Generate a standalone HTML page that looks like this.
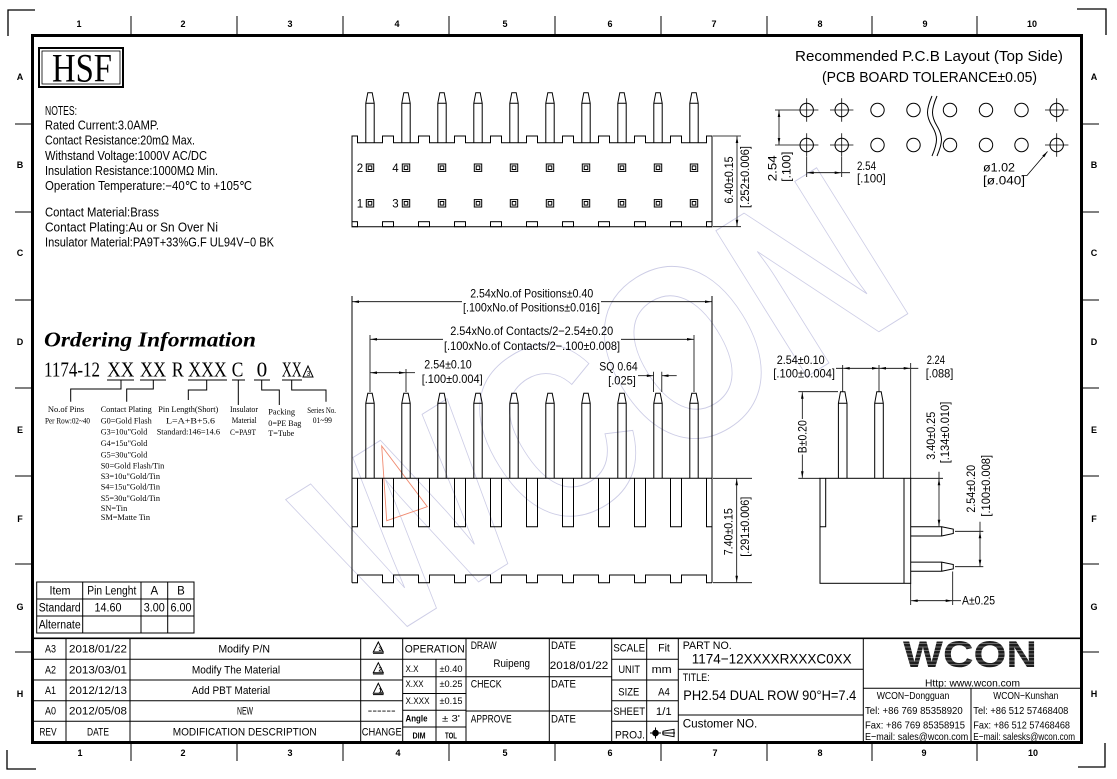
<!DOCTYPE html>
<html><head><meta charset="utf-8">
<style>
html,body{margin:0;padding:0;background:#fff;}
svg{display:block;}
.c{font-family:"Liberation Sans Narrow","Liberation Sans",sans-serif;fill:#000;}
.r{font-family:"Liberation Serif",serif;fill:#000;}
</style></head>
<body>
<svg width="1117" height="779" viewBox="0 0 1117 779" xmlns="http://www.w3.org/2000/svg">
<defs>
<marker id="ar" viewBox="0 0 10 4" refX="10" refY="2" markerWidth="7" markerHeight="2.6" markerUnits="userSpaceOnUse" orient="auto-start-reverse"><path d="M0,0L10,2L0,4z" fill="#000"/></marker>
<path id="pA" d="M-4.2,50V10.6L-2.2,0H2.2L4.2,10.6V50M-4.2,10.6H4.2" fill="none" stroke="#000" stroke-width="1"/>
<path id="pB" d="M-4.2,85V10L-2.2,0H2.2L4.2,10V85M-4.2,10H4.2" fill="none" stroke="#000" stroke-width="1"/>
<path id="pC" d="M-4.3,86.6V11.6L-2.2,0H2.2L4.3,11.6V86.6M-4.3,11.6H4.3" fill="none" stroke="#000" stroke-width="1"/>
<g id="pad" fill="none" stroke="#000" stroke-width="1"><rect x="-3.7" y="-3.7" width="7.4" height="7.4"/><rect x="-1.8" y="-1.8" width="3.6" height="3.6"/></g>
</defs>

<!-- watermark -->
<text x="0" y="0" transform="translate(648,476) rotate(-32)" font-family="Liberation Sans, sans-serif" font-size="250" font-weight="bold" text-anchor="middle" textLength="640" lengthAdjust="spacingAndGlyphs" fill="none" stroke="#cdcde6" stroke-width="1">WCON</text>
<polygon points="381.7,446 427.3,506.7 386.7,520.7" fill="none" stroke="#f08a70" stroke-width="0.9"/>

<!-- frame -->
<g fill="none" stroke="#000">
<rect x="32.5" y="35.5" width="1049" height="707" stroke-width="3"/>
<path d="M8,36V10H35M1077,9H1106V35M7,750V769H36M1078,767H1105V743" stroke-width="1.3"/>
<path d="M131,16V35M237,16V35M343,16V35M449,16V35M555,16V35M661,16V35M767,16V35M872,16V35M977,16V35" stroke-width="1"/>
<path d="M131,744V761M237,744V761M343,744V761M449,744V761M555,744V761M661,744V761M767,744V761M872,744V761M977,744V761" stroke-width="1"/>
<path d="M15,124H32M15,212H32M15,300H32M15,388H32M15,476H32M15,564H32M15,652H32" stroke-width="1"/>
<path d="M1083,124H1099M1083,212H1099M1083,300H1099M1083,388H1099M1083,476H1099M1083,564H1099M1083,652H1099" stroke-width="1"/>
</g>
<g class="c" font-size="9" font-weight="bold" text-anchor="middle">
<text x="79" y="27">1</text><text x="183" y="27">2</text><text x="290" y="27">3</text><text x="397" y="27">4</text><text x="505" y="27">5</text><text x="610" y="27">6</text><text x="714" y="27">7</text><text x="820" y="27">8</text><text x="925" y="27">9</text><text x="1032" y="27">10</text>
<text x="80" y="756">1</text><text x="183" y="756">2</text><text x="290" y="756">3</text><text x="398" y="756">4</text><text x="505" y="756">5</text><text x="610" y="756">6</text><text x="715" y="756">7</text><text x="820" y="756">8</text><text x="924" y="756">9</text><text x="1033" y="756">10</text>
<text x="20" y="80">A</text><text x="20" y="168">B</text><text x="20" y="256">C</text><text x="20" y="345">D</text><text x="20" y="433">E</text><text x="20" y="522">F</text><text x="20" y="610">G</text><text x="20" y="697">H</text>
<text x="1094" y="80">A</text><text x="1094" y="168">B</text><text x="1094" y="256">C</text><text x="1094" y="345">D</text><text x="1094" y="433">E</text><text x="1094" y="522">F</text><text x="1094" y="610">G</text><text x="1094" y="697">H</text>
</g>

<!-- HSF -->
<rect x="39" y="48" width="84" height="39" fill="none" stroke="#000" stroke-width="2"/>
<rect x="42" y="51" width="78" height="33" fill="none" stroke="#000" stroke-width="0.8"/>
<text class="r" x="52" y="81.5" font-size="40" textLength="60" lengthAdjust="spacingAndGlyphs">HSF</text>

<!-- notes -->
<g class="c" font-size="12.5">
<text x="45" y="115" textLength="32" lengthAdjust="spacingAndGlyphs">NOTES:</text>
<text x="45" y="129.5" textLength="114" lengthAdjust="spacingAndGlyphs">Rated Current:3.0AMP.</text>
<text x="45" y="144.5" textLength="150" lengthAdjust="spacingAndGlyphs">Contact Resistance:20mΩ Max.</text>
<text x="45" y="160" textLength="162" lengthAdjust="spacingAndGlyphs">Withstand Voltage:1000V AC/DC</text>
<text x="45" y="175" textLength="173" lengthAdjust="spacingAndGlyphs">Insulation Resistance:1000MΩ Min.</text>
<text x="45" y="190" textLength="207" lengthAdjust="spacingAndGlyphs">Operation Temperature:−40℃ to +105℃</text>
<text x="45" y="216.5" textLength="114" lengthAdjust="spacingAndGlyphs">Contact Material:Brass</text>
<text x="45" y="231.5" textLength="173" lengthAdjust="spacingAndGlyphs">Contact Plating:Au or Sn Over Ni</text>
<text x="45" y="246.5" textLength="229" lengthAdjust="spacingAndGlyphs">Insulator Material:PA9T+33%G.F UL94V−0 BK</text>
</g>

<!-- TOP VIEW -->
<g fill="none" stroke="#000" stroke-width="1">
<path d="M352,226.7V136H357.5V142.7H382.5V136H393.5V142.7H418.5V136H429.5V142.7H454.5V136H465.5V142.7H490.5V136H501.5V142.7H526.5V136H537.5V142.7H562.5V136H573.5V142.7H598.5V136H609.5V142.7H634.5V136H645.5V142.7H670.5V136H681.5V142.7H706.5V136H712V226.7Z"/>
<rect x="352" y="221.7" width="5.5" height="5"/><rect x="382.5" y="221.7" width="11" height="5"/><rect x="418.5" y="221.7" width="11" height="5"/><rect x="454.5" y="221.7" width="11" height="5"/><rect x="490.5" y="221.7" width="11" height="5"/><rect x="526.5" y="221.7" width="11" height="5"/><rect x="562.5" y="221.7" width="11" height="5"/><rect x="598.5" y="221.7" width="11" height="5"/><rect x="634.5" y="221.7" width="11" height="5"/><rect x="670.5" y="221.7" width="11" height="5"/><rect x="706.5" y="221.7" width="5.5" height="5"/>
<path d="M713,136H741M713,226.7H741" stroke-width="0.8"/>
<path d="M737,136.5V226.2" stroke-width="0.8" marker-start="url(#ar)" marker-end="url(#ar)"/>
</g>
<use href="#pA" x="370" y="92.7"/><use href="#pA" x="406" y="92.7"/><use href="#pA" x="442" y="92.7"/><use href="#pA" x="478" y="92.7"/><use href="#pA" x="514" y="92.7"/><use href="#pA" x="550" y="92.7"/><use href="#pA" x="586" y="92.7"/><use href="#pA" x="622" y="92.7"/><use href="#pA" x="658" y="92.7"/><use href="#pA" x="694" y="92.7"/>
<use href="#pad" x="370" y="167.7"/><use href="#pad" x="406" y="167.7"/><use href="#pad" x="442" y="167.7"/><use href="#pad" x="478" y="167.7"/><use href="#pad" x="514" y="167.7"/><use href="#pad" x="550" y="167.7"/><use href="#pad" x="586" y="167.7"/><use href="#pad" x="622" y="167.7"/><use href="#pad" x="658" y="167.7"/><use href="#pad" x="694" y="167.7"/>
<use href="#pad" x="370" y="203.3"/><use href="#pad" x="406" y="203.3"/><use href="#pad" x="442" y="203.3"/><use href="#pad" x="478" y="203.3"/><use href="#pad" x="514" y="203.3"/><use href="#pad" x="550" y="203.3"/><use href="#pad" x="586" y="203.3"/><use href="#pad" x="622" y="203.3"/><use href="#pad" x="658" y="203.3"/><use href="#pad" x="694" y="203.3"/>
<g class="c" font-size="11.5" text-anchor="middle">
<text x="360" y="171.8">2</text><text x="395.5" y="171.8">4</text><text x="360" y="207.4">1</text><text x="395.5" y="207.4">3</text>
<text transform="translate(733,180) rotate(-90)" textLength="47" lengthAdjust="spacingAndGlyphs">6.40±0.15</text>
<text transform="translate(749,177) rotate(-90)" textLength="62" lengthAdjust="spacingAndGlyphs">[.252±0.006]</text>
</g>

<!-- PCB LAYOUT -->
<g class="c" font-size="15">
<text x="795" y="61" textLength="268" lengthAdjust="spacingAndGlyphs">Recommended P.C.B Layout (Top Side)</text>
<text x="822" y="82" textLength="215" lengthAdjust="spacingAndGlyphs">(PCB BOARD TOLERANCE±0.05)</text>
</g>
<g fill="none" stroke="#000" stroke-width="1">
<circle cx="806.7" cy="110" r="6.7"/><circle cx="841.7" cy="110" r="6.7"/><circle cx="877.5" cy="110" r="6.7"/><circle cx="913.5" cy="110" r="6.7"/><circle cx="950" cy="110" r="6.7"/><circle cx="986" cy="110" r="6.7"/><circle cx="1021.5" cy="110" r="6.7"/><circle cx="1056.7" cy="110" r="6.7"/>
<circle cx="806.7" cy="145" r="6.7"/><circle cx="841.7" cy="145" r="6.7"/><circle cx="877.5" cy="145" r="6.7"/><circle cx="913.5" cy="145" r="6.7"/><circle cx="950" cy="145" r="6.7"/><circle cx="986" cy="145" r="6.7"/><circle cx="1021.5" cy="145" r="6.7"/><circle cx="1056.7" cy="145" r="6.7"/>
<path d="M795,110H818.4M806.7,98.3V121.7M830,110H853.4M841.7,98.3V121.7M1045,110H1068.4M1056.7,98.3V121.7" stroke-width="0.8"/>
<path d="M795,145H818.4M806.7,133.3V156.7M830,145H853.4M841.7,133.3V156.7M1045,145H1068.4M1056.7,133.3V156.7" stroke-width="0.8"/>
<path d="M932,96C926,110 926,116 932,126C938,136 938,142 932,156M937,96C931,110 931,116 937,126C943,136 943,142 937,156"/>
<path d="M775,110H795M775,145H795M806.7,157V177M841.7,157V177M841.7,172.7H850" stroke-width="0.8"/>
<path d="M779,110.5V144.5" stroke-width="0.8" marker-start="url(#ar)" marker-end="url(#ar)"/>
<path d="M807.2,172.7H841.2" stroke-width="0.8" marker-start="url(#ar)" marker-end="url(#ar)"/>
<path d="M1022,175.5H1027L1047.5,151.5" stroke-width="0.8" marker-end="url(#ar)"/>
</g>
<g class="c" font-size="11.5">
<text transform="translate(776.5,168.3) rotate(-90)" text-anchor="middle" textLength="26" lengthAdjust="spacingAndGlyphs">2.54</text>
<text transform="translate(790.7,166.7) rotate(-90)" text-anchor="middle" textLength="30" lengthAdjust="spacingAndGlyphs">[.100]</text>
<text x="857" y="170" textLength="19" lengthAdjust="spacingAndGlyphs">2.54</text>
<text x="857" y="182.5" textLength="28.7" lengthAdjust="spacingAndGlyphs">[.100]</text>
<text x="983" y="171.5" textLength="32" lengthAdjust="spacingAndGlyphs">ø1.02</text>
<text x="983" y="184.5" textLength="42" lengthAdjust="spacingAndGlyphs">[ø.040]</text>
</g>

<!-- ORDERING -->
<text class="r" x="44" y="346.7" font-size="21" font-weight="bold" font-style="italic" textLength="212" lengthAdjust="spacingAndGlyphs">Ordering Information</text>
<g class="r" font-size="21">
<text x="44" y="376.7" textLength="56" lengthAdjust="spacingAndGlyphs">1174-12</text>
<text x="107.3" y="376.7" textLength="27" lengthAdjust="spacingAndGlyphs">XX</text>
<text x="140" y="376.7" textLength="26" lengthAdjust="spacingAndGlyphs">XX</text>
<text x="171.7" y="376.7" textLength="12" lengthAdjust="spacingAndGlyphs">R</text>
<text x="188.3" y="376.7" textLength="38.4" lengthAdjust="spacingAndGlyphs">XXX</text>
<text x="231.7" y="376.7" textLength="11.6" lengthAdjust="spacingAndGlyphs">C</text>
<text x="256.7" y="376.7" textLength="10.6" lengthAdjust="spacingAndGlyphs">0</text>
<text x="281.7" y="376.7" textLength="20" lengthAdjust="spacingAndGlyphs">XX</text>
</g>
<polygon points="303,377 308,366 313,377" fill="none" stroke="#000" stroke-width="1"/>
<text class="c" x="308.5" y="376" font-size="7" text-anchor="middle">3</text>
<g fill="none" stroke="#000" stroke-width="1">
<path d="M107,380H134M140,380H166M188,380H227M232,380H245M254,380H270M282,380H302"/>
<path d="M121,380V389H70.7V401.7M153.3,380V389H126.7V401.7M206.7,380V390H188.3V400M238.3,380V405M261.7,380V390H279.3V405M291.7,380V390H326V401.7"/>
</g>
<g class="r" font-size="8.5">
<text x="66" y="412" text-anchor="middle">No.of Pins</text>
<text x="45" y="423.5" textLength="45" lengthAdjust="spacingAndGlyphs">Per Row:02~40</text>
<text x="100.7" y="412" textLength="51" lengthAdjust="spacingAndGlyphs">Contact Plating</text>
<text x="100.7" y="423.5" textLength="51" lengthAdjust="spacingAndGlyphs">G0=Gold Flash</text>
<text x="100.7" y="434.5" textLength="46.6" lengthAdjust="spacingAndGlyphs">G3=10u"Gold</text>
<text x="100.7" y="446" textLength="46.6" lengthAdjust="spacingAndGlyphs">G4=15u"Gold</text>
<text x="100.7" y="457.5" textLength="46.6" lengthAdjust="spacingAndGlyphs">G5=30u"Gold</text>
<text x="100.7" y="468.5" textLength="63.6" lengthAdjust="spacingAndGlyphs">S0=Gold Flash/Tin</text>
<text x="100.7" y="479" textLength="59.3" lengthAdjust="spacingAndGlyphs">S3=10u"Gold/Tin</text>
<text x="100.7" y="489.5" textLength="59.3" lengthAdjust="spacingAndGlyphs">S4=15u"Gold/Tin</text>
<text x="100.7" y="501" textLength="59.3" lengthAdjust="spacingAndGlyphs">S5=30u"Gold/Tin</text>
<text x="100.7" y="511" textLength="26.6" lengthAdjust="spacingAndGlyphs">SN=Tin</text>
<text x="100.7" y="520" textLength="49.3" lengthAdjust="spacingAndGlyphs">SM=Matte Tin</text>
<text x="158.3" y="412" textLength="60" lengthAdjust="spacingAndGlyphs">Pin Length(Short)</text>
<text x="166" y="423.5" textLength="49" lengthAdjust="spacingAndGlyphs">L=A+B+5.6</text>
<text x="156.7" y="434.5" textLength="63.3" lengthAdjust="spacingAndGlyphs">Standard:146=14.6</text>
<text x="230" y="412" textLength="28" lengthAdjust="spacingAndGlyphs">Insulator</text>
<text x="231.7" y="423" textLength="25" lengthAdjust="spacingAndGlyphs">Material</text>
<text x="230" y="435" textLength="26" lengthAdjust="spacingAndGlyphs">C=PA9T</text>
<text x="268.3" y="414.5" textLength="26.7" lengthAdjust="spacingAndGlyphs">Packing</text>
<text x="268.3" y="426" textLength="33" lengthAdjust="spacingAndGlyphs">0=PE Bag</text>
<text x="268.3" y="436" textLength="26" lengthAdjust="spacingAndGlyphs">T=Tube</text>
<text x="307.3" y="413" textLength="28.7" lengthAdjust="spacingAndGlyphs">Series No.</text>
<text x="312.7" y="423" textLength="19.3" lengthAdjust="spacingAndGlyphs">01~99</text>
</g>

<!-- FRONT VIEW -->
<g fill="none" stroke="#000" stroke-width="1">
<path d="M352,478.3H712M352,296V582.7M712,296V582.7"/>
<path d="M357.5,478.3V526.7H352M382.5,478.3V526.7H393.5V478.3M418.5,478.3V526.7H429.5V478.3M454.5,478.3V526.7H465.5V478.3M490.5,478.3V526.7H501.5V478.3M526.5,478.3V526.7H537.5V478.3M562.5,478.3V526.7H573.5V478.3M598.5,478.3V526.7H609.5V478.3M634.5,478.3V526.7H645.5V478.3M670.5,478.3V526.7H681.5V478.3M706.5,478.3V526.7H712"/>
<path d="M352,582.7H357.5V575H382.5V582.7H393.5V575H418.5V582.7H429.5V575H454.5V582.7H465.5V575H490.5V582.7H501.5V575H526.5V582.7H537.5V575H562.5V582.7H573.5V575H598.5V582.7H609.5V575H634.5V582.7H645.5V575H670.5V582.7H681.5V575H706.5V582.7H712"/>
<g stroke-width="0.8">
<path d="M352.5,301.7H462" marker-start="url(#ar)"/><path d="M601,301.7H711.5" marker-end="url(#ar)"/>
<path d="M370,335V392M694,335V392M406,369V392M653.5,371.7V392M661.8,371.7V392"/>
<path d="M370.5,339.3H443" marker-start="url(#ar)"/><path d="M621,339.3H693.5" marker-end="url(#ar)"/>
<path d="M370.5,372.7H405.5" marker-start="url(#ar)" marker-end="url(#ar)"/><path d="M406,372.7H415"/>
<path d="M638,375.7H653.3" marker-end="url(#ar)"/><path d="M676.7,375.7H662" marker-end="url(#ar)"/>
<path d="M713,478.3H752M713,582.7H752"/>
<path d="M736.7,478.8V582.2" marker-start="url(#ar)" marker-end="url(#ar)"/>
</g>
</g>
<use href="#pB" x="370" y="393.3"/><use href="#pB" x="406" y="393.3"/><use href="#pB" x="442" y="393.3"/><use href="#pB" x="478" y="393.3"/><use href="#pB" x="514" y="393.3"/><use href="#pB" x="550" y="393.3"/><use href="#pB" x="586" y="393.3"/><use href="#pB" x="622" y="393.3"/><use href="#pB" x="658" y="393.3"/><use href="#pB" x="694" y="393.3"/>
<g class="c" font-size="12" text-anchor="middle">
<text x="531.7" y="297.5" textLength="123" lengthAdjust="spacingAndGlyphs">2.54xNo.of Positions±0.40</text>
<text x="531.5" y="311.5" textLength="137" lengthAdjust="spacingAndGlyphs">[.100xNo.of Positions±0.016]</text>
<text x="531.7" y="335" textLength="163" lengthAdjust="spacingAndGlyphs">2.54xNo.of Contacts/2−2.54±0.20</text>
<text x="532" y="350" textLength="176" lengthAdjust="spacingAndGlyphs">[.100xNo.of Contacts/2−.100±0.008]</text>
<text x="448" y="368.5" textLength="47.4" lengthAdjust="spacingAndGlyphs">2.54±0.10</text>
<text x="452.2" y="383" textLength="61" lengthAdjust="spacingAndGlyphs">[.100±0.004]</text>
<text x="618.5" y="370.7" textLength="38.4" lengthAdjust="spacingAndGlyphs">SQ 0.64</text>
<text x="622" y="384.7" textLength="27.7" lengthAdjust="spacingAndGlyphs">[.025]</text>
<text transform="translate(732.5,531.7) rotate(-90)" textLength="47" lengthAdjust="spacingAndGlyphs">7.40±0.15</text>
<text transform="translate(749,526.7) rotate(-90)" textLength="60" lengthAdjust="spacingAndGlyphs">[.291±0.006]</text>
</g>

<!-- SIDE VIEW -->
<g fill="none" stroke="#000" stroke-width="1">
<rect x="820" y="478.3" width="90.7" height="105"/>
<path d="M825.7,478.3V526.7H820M904,478.3V583.3"/>
<path d="M910.7,526.7H941.7L953.3,529.1V533.5L941.7,536H910.7M941.7,526.7V536"/>
<path d="M910.7,562.1H941.7L953.3,564.5V568.9L941.7,571.3H910.7M941.7,562.1V571.3"/>
<g stroke-width="0.8">
<path d="M842.7,365V391.7M879,365V391.7M910.7,363V478.3"/>
<path d="M836,368.3H842.7M910.7,368.3H918.3"/>
<path d="M843.2,368.3H878.5" marker-start="url(#ar)" marker-end="url(#ar)"/>
<path d="M879.5,368.3H910.2" marker-start="url(#ar)" marker-end="url(#ar)"/>
<path d="M798.3,391.7H838M798.3,478.3H820"/>
<path d="M802.3,392.2V419" marker-start="url(#ar)"/><path d="M802.3,454.5V477.8" marker-end="url(#ar)"/>
<path d="M910.7,478.3H943M939,471.7V478.3"/>
<path d="M939,478.8V526.2" marker-start="url(#ar)" marker-end="url(#ar)"/>
<path d="M955,531.3H983.3M955,566.7H983.3M980,521.7V531.3"/>
<path d="M980,531.8V566.2" marker-start="url(#ar)" marker-end="url(#ar)"/>
<path d="M910.7,583.3V605M952.7,571.5V605"/>
<path d="M911.2,600.7H952.2" marker-start="url(#ar)" marker-end="url(#ar)"/><path d="M952.7,600.7H961"/>
</g>
</g>
<use href="#pC" x="842.7" y="391.7"/><use href="#pC" x="879" y="391.7"/>
<g class="c" font-size="11.5">
<text x="776.7" y="364" textLength="48" lengthAdjust="spacingAndGlyphs">2.54±0.10</text>
<text x="773.3" y="377.5" textLength="61.7" lengthAdjust="spacingAndGlyphs">[.100±0.004]</text>
<text x="926.7" y="364" textLength="18.3" lengthAdjust="spacingAndGlyphs">2.24</text>
<text x="925.7" y="377.5" textLength="27.6" lengthAdjust="spacingAndGlyphs">[.088]</text>
<text transform="translate(806.3,436.7) rotate(-90)" text-anchor="middle" textLength="33" lengthAdjust="spacingAndGlyphs">B±0.20</text>
<text transform="translate(935,435.8) rotate(-90)" text-anchor="middle" textLength="48" lengthAdjust="spacingAndGlyphs">3.40±0.25</text>
<text transform="translate(949,432.5) rotate(-90)" text-anchor="middle" textLength="61.6" lengthAdjust="spacingAndGlyphs">[.134±0.010]</text>
<text transform="translate(975,488.8) rotate(-90)" text-anchor="middle" textLength="47.7" lengthAdjust="spacingAndGlyphs">2.54±0.20</text>
<text transform="translate(990,485.8) rotate(-90)" text-anchor="middle" textLength="61.7" lengthAdjust="spacingAndGlyphs">[.100±0.008]</text>
<text x="962" y="604.7" textLength="33" lengthAdjust="spacingAndGlyphs">A±0.25</text>
</g>

<!-- ITEM TABLE -->
<g fill="none" stroke="#000" stroke-width="1">
<rect x="36.7" y="582" width="157.3" height="51"/>
<path d="M36.7,599H194M36.7,616H194M82.7,582V633M141,582V633M167.7,582V633"/>
</g>
<g class="c" font-size="11.5" text-anchor="middle">
<text x="60" y="594.5" textLength="21" lengthAdjust="spacingAndGlyphs">Item</text>
<text x="111.8" y="594.5" textLength="49" lengthAdjust="spacingAndGlyphs">Pin Lenght</text>
<text x="154.3" y="594.5">A</text><text x="181" y="594.5">B</text>
<text x="59.7" y="611.5" textLength="42" lengthAdjust="spacingAndGlyphs">Standard</text>
<text x="108" y="611.5" textLength="27" lengthAdjust="spacingAndGlyphs">14.60</text>
<text x="154.3" y="611.5" textLength="21" lengthAdjust="spacingAndGlyphs">3.00</text>
<text x="181" y="611.5" textLength="21" lengthAdjust="spacingAndGlyphs">6.00</text>
<text x="59.7" y="628.5" textLength="42" lengthAdjust="spacingAndGlyphs">Alternate</text>
</g>

<!-- TITLE BLOCK LINES -->
<g fill="none" stroke="#000" stroke-width="1">
<path d="M33,638.3H1082" stroke-width="1.6"/>
<path d="M33,659.3H402.7M33,680H402.7M33,700.7H402.7M33,721.3H402.7"/>
<path d="M66,638.3V742M130,638.3V742M360.7,638.3V742"/>
<path d="M402.7,638.3V742M466,638.3V742M549.3,638.3V742M611.7,638.3V742M646.7,638.3V742M678.3,638.3V742M436,659.3V742"/>
<path d="M402.7,659.3H466M402.7,676.7H466M402.7,693.5H466M402.7,710.3H466M402.7,727H466"/>
<path d="M466,676.7H611.7M466,711H611.7"/>
<path d="M611.7,659.3H678.3M611.7,680H678.3M611.7,700.7H678.3M611.7,721.3H678.3"/>
<path d="M678.3,669.3H863.3M678.3,715H863.3M863.3,638.3V742"/>
<path d="M863.3,688.3H1082M971,688.3V742"/>
</g>
<!-- revision texts -->
<g class="c" font-size="11" text-anchor="middle">
<text x="50.5" y="652.7" textLength="11" lengthAdjust="spacingAndGlyphs">A3</text>
<text x="50.5" y="673.3" textLength="11" lengthAdjust="spacingAndGlyphs">A2</text>
<text x="50.5" y="694" textLength="11" lengthAdjust="spacingAndGlyphs">A1</text>
<text x="50.5" y="714.7" textLength="11" lengthAdjust="spacingAndGlyphs">A0</text>
<text x="48" y="735.3" textLength="17.3" lengthAdjust="spacingAndGlyphs">REV</text>
<text x="98" y="652.7" textLength="58" lengthAdjust="spacingAndGlyphs">2018/01/22</text>
<text x="98" y="673.3" textLength="58" lengthAdjust="spacingAndGlyphs">2013/03/01</text>
<text x="98" y="694" textLength="58" lengthAdjust="spacingAndGlyphs">2012/12/13</text>
<text x="98" y="714.7" textLength="58" lengthAdjust="spacingAndGlyphs">2012/05/08</text>
<text x="98" y="735.3" textLength="22" lengthAdjust="spacingAndGlyphs">DATE</text>
<text x="244.2" y="652.7" textLength="51.7" lengthAdjust="spacingAndGlyphs">Modify P/N</text>
<text x="236" y="673.3" textLength="88.3" lengthAdjust="spacingAndGlyphs">Modify The Material</text>
<text x="231" y="694" textLength="78.3" lengthAdjust="spacingAndGlyphs">Add PBT Material</text>
<text x="245" y="714.7" textLength="16" lengthAdjust="spacingAndGlyphs">NEW</text>
<text x="244.7" y="735.3" textLength="144" lengthAdjust="spacingAndGlyphs">MODIFICATION DESCRIPTION</text>
<text x="381.7" y="714" textLength="28" lengthAdjust="spacingAndGlyphs">------</text>
<text x="381.7" y="735.3" textLength="40" lengthAdjust="spacingAndGlyphs">CHANGE</text>
</g>
<g fill="none" stroke="#000" stroke-width="1">
<polygon points="373.3,652 378.3,642 383.3,652"/><path d="M373,653.3H383.6"/>
<polygon points="373.3,672.7 378.3,662.7 383.3,672.7"/><path d="M373,674H383.6"/>
<polygon points="373.3,693.3 378.3,683.3 383.3,693.3"/><path d="M373,694.6H383.6"/>
</g>
<g class="c" font-size="6.5" font-weight="bold">
<text x="378.5" y="651">3</text><text x="378.5" y="671.7">2</text><text x="378.5" y="692.3">1</text>
</g>
<!-- operation -->
<g class="c" font-size="11">
<text x="434.7" y="652.5" text-anchor="middle" textLength="60" lengthAdjust="spacingAndGlyphs">OPERATION</text>
<text x="470.7" y="649" textLength="26" lengthAdjust="spacingAndGlyphs">DRAW</text>
<text x="511.7" y="667" text-anchor="middle" textLength="36.7" lengthAdjust="spacingAndGlyphs">Ruipeng</text>
<text x="551" y="649" textLength="25" lengthAdjust="spacingAndGlyphs">DATE</text>
<text x="549.8" y="669" textLength="58.5" lengthAdjust="spacingAndGlyphs">2018/01/22</text>
<text x="470.7" y="687.3" textLength="31" lengthAdjust="spacingAndGlyphs">CHECK</text>
<text x="551" y="687.3" textLength="25" lengthAdjust="spacingAndGlyphs">DATE</text>
<text x="470.7" y="722.3" textLength="41" lengthAdjust="spacingAndGlyphs">APPROVE</text>
<text x="551" y="722.3" textLength="25" lengthAdjust="spacingAndGlyphs">DATE</text>
<g text-anchor="middle">
<text x="629.2" y="651.5" textLength="31.7" lengthAdjust="spacingAndGlyphs">SCALE</text>
<text x="664" y="651.5" textLength="11.7" lengthAdjust="spacingAndGlyphs">Fit</text>
<text x="629.2" y="673" textLength="21.7" lengthAdjust="spacingAndGlyphs">UNIT</text>
<text x="661.7" y="673" textLength="20" lengthAdjust="spacingAndGlyphs">mm</text>
<text x="628.8" y="695.7" textLength="21" lengthAdjust="spacingAndGlyphs">SIZE</text>
<text x="664" y="695.7" textLength="11.7" lengthAdjust="spacingAndGlyphs">A4</text>
<text x="629.2" y="715" textLength="31.7" lengthAdjust="spacingAndGlyphs">SHEET</text>
<text x="663.8" y="715" textLength="15.7" lengthAdjust="spacingAndGlyphs">1/1</text>
<text x="630" y="738.3" textLength="30" lengthAdjust="spacingAndGlyphs">PROJ.</text>
</g>
</g>
<g class="c" font-size="9">
<text x="405.5" y="672" textLength="13" lengthAdjust="spacingAndGlyphs">X.X</text>
<text x="405.5" y="687" textLength="18" lengthAdjust="spacingAndGlyphs">X.XX</text>
<text x="405.5" y="704" textLength="24" lengthAdjust="spacingAndGlyphs">X.XXX</text>
<text x="405.5" y="721.5" textLength="22" lengthAdjust="spacingAndGlyphs" font-weight="bold">Angle</text>
<g text-anchor="middle">
<text x="451" y="672" textLength="23" lengthAdjust="spacingAndGlyphs">±0.40</text>
<text x="451" y="687" textLength="23" lengthAdjust="spacingAndGlyphs">±0.25</text>
<text x="451" y="704" textLength="23" lengthAdjust="spacingAndGlyphs">±0.15</text>
<text x="451" y="721.5" textLength="18" lengthAdjust="spacingAndGlyphs">±  3'</text>
<text x="419" y="738.5" font-size="8" font-weight="bold" textLength="13" lengthAdjust="spacingAndGlyphs">DIM</text>
<text x="451" y="738.5" font-size="8" font-weight="bold" textLength="12" lengthAdjust="spacingAndGlyphs">TOL</text>
</g>
</g>
<!-- projection symbol -->
<g stroke="#000" stroke-width="1">
<circle cx="655.5" cy="733" r="2.8" fill="#000"/>
<path d="M650,733H661M655.5,727.5V738.5" fill="none"/>
<polygon points="663,731.3 674,729.3 674,736.7 663,734.7" fill="none"/>
<path d="M662,733H675" fill="none"/>
</g>
<!-- part block -->
<g class="c">
<text x="682.7" y="649" font-size="11" textLength="49" lengthAdjust="spacingAndGlyphs">PART NO.</text>
<text x="691.7" y="663.5" font-size="14" textLength="160" lengthAdjust="spacingAndGlyphs">1174−12XXXXRXXXC0XX</text>
<text x="682.7" y="681" font-size="11" textLength="27" lengthAdjust="spacingAndGlyphs">TITLE:</text>
<text x="683.3" y="700" font-size="14" textLength="173" lengthAdjust="spacingAndGlyphs">PH2.54 DUAL ROW 90°H=7.4</text>
<text x="682.7" y="727.5" font-size="12" textLength="74.6" lengthAdjust="spacingAndGlyphs">Customer NO.</text>
</g>
<!-- WCON -->
<text x="903" y="667" font-family="Liberation Sans, sans-serif" font-size="37" font-weight="bold" fill="#1e1e1e" textLength="134" lengthAdjust="spacingAndGlyphs">WCON</text>
<path d="M900,643.5H1040M900,647H1040M900,650.5H1040M900,654H1040M900,657.5H1040M900,661H1040M900,664.5H1040" stroke="#fff" stroke-width="0.6" opacity="0.7"/>
<g class="c" font-size="10.5">
<text x="925" y="686.5" textLength="95" lengthAdjust="spacingAndGlyphs">Http: www.wcon.com</text>
<text x="876.7" y="699" textLength="72.6" lengthAdjust="spacingAndGlyphs">WCON−Dongguan</text>
<text x="865" y="714" textLength="97.7" lengthAdjust="spacingAndGlyphs">Tel: +86 769 85358920</text>
<text x="865" y="728.3" textLength="100" lengthAdjust="spacingAndGlyphs">Fax: +86 769 85358915</text>
<text x="865" y="740" textLength="103.3" lengthAdjust="spacingAndGlyphs">E−mail: sales@wcon.com</text>
<text x="993.3" y="699" textLength="65" lengthAdjust="spacingAndGlyphs">WCON−Kunshan</text>
<text x="973.3" y="714" textLength="95" lengthAdjust="spacingAndGlyphs">Tel: +86 512 57468408</text>
<text x="973.3" y="728.3" textLength="96.7" lengthAdjust="spacingAndGlyphs">Fax: +86 512 57468468</text>
<text x="973.3" y="740" textLength="101.7" lengthAdjust="spacingAndGlyphs">E−mail: salesks@wcon.com</text>
</g>
</svg>
</body></html>
